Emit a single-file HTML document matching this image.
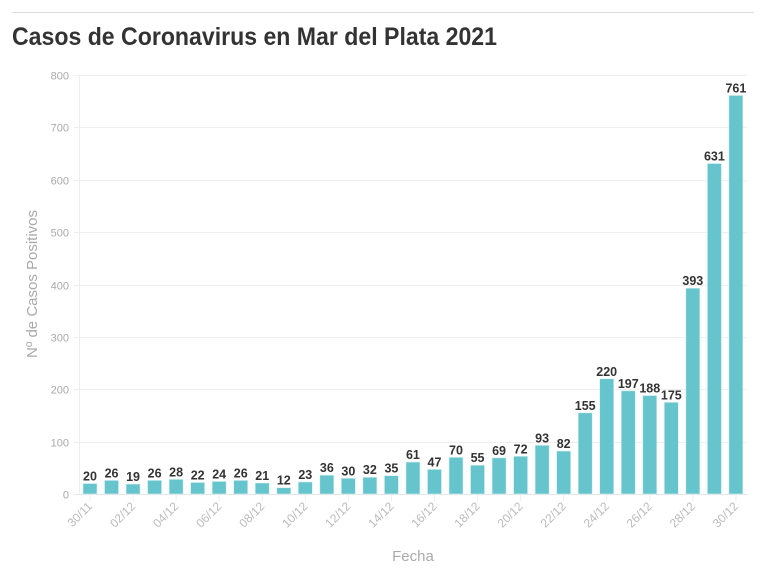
<!DOCTYPE html>
<html><head><meta charset="utf-8"><style>
html,body{margin:0;padding:0;background:#fff;width:766px;height:575px;overflow:hidden}
svg{display:block;font-family:"Liberation Sans",sans-serif}
</style></head><body>
<svg width="766" height="575" viewBox="0 0 766 575" xmlns="http://www.w3.org/2000/svg">
<line x1="12" y1="12.5" x2="754" y2="12.5" stroke="#ddd" stroke-width="1"/>
<text x="12" y="45" font-size="25" font-weight="bold" fill="#333" textLength="485" lengthAdjust="spacingAndGlyphs">Casos de Coronavirus en Mar del Plata 2021</text>
<g id="grid"></g>
<g id="bars"></g>
<g id="xl"></g>
<line x1="79.5" y1="75" x2="79.5" y2="494" stroke="#eee"/>
<text transform="translate(37,284) rotate(-90)" text-anchor="middle" font-size="15" fill="#aaa" textLength="148" lengthAdjust="spacingAndGlyphs">Nº de Casos Positivos</text>
<text x="413" y="561" text-anchor="middle" font-size="15" fill="#aaa">Fecha</text>
</svg>
<script>
var ns="http://www.w3.org/2000/svg";
function el(p,t,a,txt){var e=document.createElementNS(ns,t);for(var k in a)e.setAttribute(k,a[k]);if(txt!=null)e.textContent=txt;document.getElementById(p).appendChild(e);return e;}
var y0=494,sc=419/800;
for(var v=0;v<=800;v+=100){var y=Math.round(y0-v*sc)+0.5;
el("grid","line",{x1:74,y1:y,x2:747,y2:y,stroke:v==0?"#e6e6e6":"#eee"});
el("grid","text",{x:69,y:y+4,"text-anchor":"end","font-size":11,fill:"#aaa"},v);}
var d=[20,26,19,26,28,22,24,26,21,12,23,36,30,32,35,61,47,70,55,69,72,93,82,155,220,197,188,175,393,631,761];
var lab=["30/11"];for(var i=1;i<31;i++){lab.push((i<10?"0":"")+i+"/12");}
for(var i=0;i<31;i++){var cx=90+i*21.53,h=d[i]*sc;
el("bars","rect",{x:cx-7,y:y0-h,width:14,height:h,fill:"#66c5cc",stroke:"#d9f0f2","stroke-width":0.6});
el("bars","text",{x:cx,y:y0-h-3,"text-anchor":"middle","font-size":12.5,"font-weight":"bold",fill:"#333"},d[i]);
if(i%2==0){el("xl","line",{x1:cx,y1:495,x2:cx,y2:501,stroke:"#eee"});
el("xl","text",{transform:"translate("+(cx+3)+",507) rotate(-45)","text-anchor":"end","font-size":12,fill:"#bbb"},lab[i]);}}
</script>
</body></html>
